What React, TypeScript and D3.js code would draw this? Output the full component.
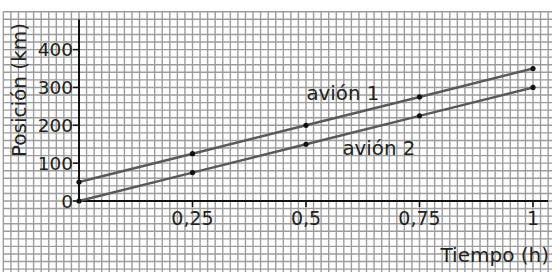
import React from "react";
import * as d3 from "d3";

const times = [0, 0.25, 0.5, 0.75, 1];
const avion1 = [50, 125, 200, 275, 350];
const avion2 = [0, 75, 150, 225, 300];
const xTicks = [0.25, 0.5, 0.75, 1];
const xTickLabels = ["0,25", "0,5", "0,75", "1"];
const yTicks = [0, 100, 200, 300, 400];

const W = 552;
const H = 272;
const FONT = "DejaVu Sans, sans-serif";

export default function App() {
  const x = d3.scaleLinear().domain([0, 1]).range([79, 533]);
  const y = d3.scaleLinear().domain([0, 400]).range([201, 49.6]);
  const cellX = 1 / 60;
  const cellY = 20;
  const vLines = d3.range(-10, 63).map((k) => x(k * cellX));
  const hLines = d3.range(-9, 26).map((k) => y(k * cellY));
  const gridTop = y(25 * cellY);
  const gridLeft = x(-10 * cellX);

  const line = d3
    .line<number>()
    .x((_, i) => x(times[i]))
    .y((d) => y(d));

  return (
    <svg
      width={W}
      height={H}
      style={{ position: "absolute", left: 0, top: 0, background: "#fff" }}
    >
      <g stroke="#9c9c9c" strokeWidth={1.4}>
        {vLines.map((vx, i) => (
          <line key={"v" + i} x1={vx} x2={vx} y1={gridTop} y2={H} />
        ))}
        {hLines.map((hy, i) => (
          <line key={"h" + i} x1={gridLeft} x2={W} y1={hy} y2={hy} />
        ))}
      </g>
      {/* axes */}
      <line x1={x(0)} x2={x(0)} y1={y(0)} y2={19.5} stroke="#111" strokeWidth={2} />
      <line x1={x(0)} x2={548} y1={y(0)} y2={y(0)} stroke="#111" strokeWidth={2} />
      {yTicks.map((t) => (
        <g key={"yt" + t}>
          <line x1={x(0) - 6} x2={x(0)} y1={y(t)} y2={y(t)} stroke="#111" strokeWidth={1.5} />
          <text
            x={x(0) - 6}
            y={y(t)}
            dy="0.36em"
            textAnchor="end"
            fontFamily={FONT}
            fontSize={18.5}
            fill="#222"
          >
            {t}
          </text>
        </g>
      ))}
      {xTicks.map((t, i) => (
        <g key={"xt" + t}>
          <line x1={x(t)} x2={x(t)} y1={y(0)} y2={y(0) + 6} stroke="#111" strokeWidth={1.5} />
          <text
            x={x(t)}
            y={225}
            textAnchor="middle"
            fontFamily={FONT}
            fontSize={19}
            fill="#222"
          >
            {xTickLabels[i]}
          </text>
        </g>
      ))}
      <text
        x={549}
        y={262}
        textAnchor="end"
        fontFamily={FONT}
        fontSize={20}
        fill="#222"
      >
        Tiempo (h)
      </text>
      <text
        transform={`translate(26,90) rotate(-90)`}
        textAnchor="middle"
        fontFamily={FONT}
        fontSize={20}
        fill="#222"
      >
        Posición (km)
      </text>
      {[avion1, avion2].map((s, si) => (
        <g key={"s" + si}>
          <path d={line(s) || ""} fill="none" stroke="#5a5a5a" strokeWidth={2.5} />
          {s.map((v, i) => (
            <circle key={i} cx={x(times[i])} cy={y(v)} r={2.6} fill="#111" />
          ))}
        </g>
      ))}
      <text x={306.5} y={99.5} fontFamily={FONT} fontSize={19.8} fill="#222">
        avión 1
      </text>
      <text x={342.5} y={155} fontFamily={FONT} fontSize={19.8} fill="#222">
        avión 2
      </text>
    </svg>
  );
}
